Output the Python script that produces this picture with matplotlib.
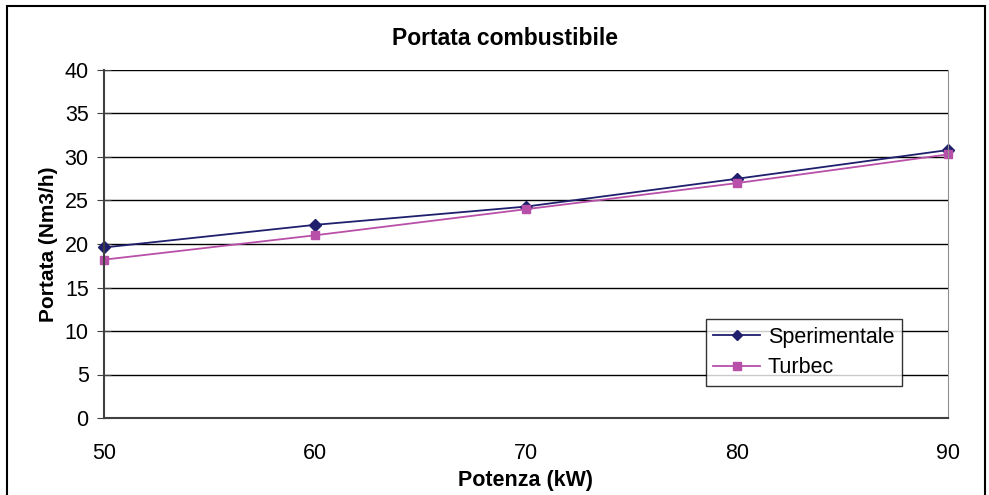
import matplotlib
matplotlib.use('Agg')
import matplotlib.pyplot as plt
from matplotlib.patches import Rectangle

plt.rcParams['font.family'] = ['Liberation Sans', 'DejaVu Sans']

# data
potenza = [50, 60, 70, 80, 90]
sperimentale = [19.6, 22.2, 24.3, 27.5, 30.8]
turbec = [18.2, 21.0, 24.0, 27.0, 30.3]
yticks = [0, 5, 10, 15, 20, 25, 30, 35, 40]

fig = plt.figure(figsize=(9.89, 4.95), dpi=100)
ax = fig.add_axes([104/989, 1-418/495, (948-104)/989, (418-70)/495])

# outer chart frame
fig.patches.append(Rectangle((7/989, -0.02), (985-7)/989, 1-6/495+0.02,
                             transform=fig.transFigure, fill=False,
                             edgecolor='black', linewidth=1.5))

for y in yticks[1:]:
    ax.axhline(y, color='black', linewidth=1, zorder=0)

ax.plot(potenza, sperimentale, color='#1f1f6e', marker='D', markersize=6,
        linewidth=1.3, label='Sperimentale', clip_on=False)
ax.plot(potenza, turbec, color='#b84fa8', marker='s', markersize=6,
        linewidth=1.3, label='Turbec', clip_on=False)

ax.set_xlim(50, 90)
ax.set_ylim(0, 40)
ax.set_xticks(potenza)
ax.set_yticks(yticks)
ax.tick_params(labelsize=15.5, color='#404040')
ax.tick_params(axis='x', length=0, pad=18)
ax.tick_params(axis='y', direction='inout', length=10, pad=6)

ax.spines['top'].set_visible(False)
ax.spines['right'].set_color('#909090')
ax.spines['left'].set_color('#404040')
ax.spines['left'].set_linewidth(1.5)
ax.spines['bottom'].set_color('#404040')
ax.spines['bottom'].set_linewidth(1.5)

ax.set_title('Portata combustibile', fontsize=16.5, fontweight='bold', pad=18,
             x=(505-104)/844)
ax.set_xlabel('Potenza (kW)', fontsize=15.5, fontweight='bold', labelpad=4)
ax.set_ylabel('Portata (Nm3/h)', fontsize=15, fontweight='bold', labelpad=5)

leg = ax.legend(loc='lower right', bbox_to_anchor=(0.9455, 0.092), fontsize=15.5,
                frameon=True, fancybox=False, edgecolor='black',
                borderpad=0.35, handlelength=2.2, handletextpad=0.35,
                labelspacing=0.45, borderaxespad=0, markerscale=0.85)
leg.get_frame().set_linewidth(1)

fig.savefig('out.png', dpi=100)
